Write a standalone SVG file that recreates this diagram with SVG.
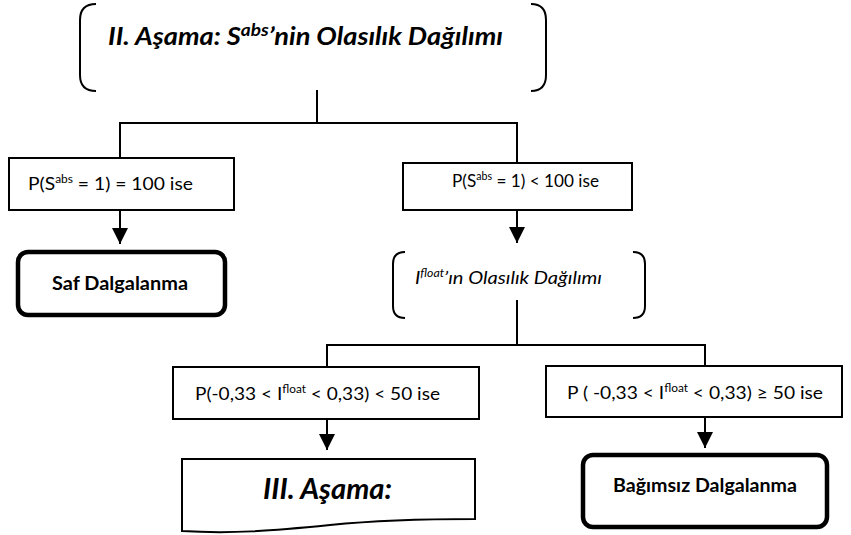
<svg xmlns="http://www.w3.org/2000/svg" width="851" height="535" viewBox="0 0 851 535">
<style>
.t{font-family:Lato,"Open Sans","Liberation Sans",sans-serif;fill:#000}
.box{fill:#fff;stroke:#000;stroke-width:2}
.thick{fill:#fff;stroke:#000;stroke-width:4.5}
.br{fill:none;stroke:#000;stroke-width:2}
.c{fill:none;stroke:#000;stroke-width:2}
.sup{font-size:70%}
</style>
<defs>
<marker id="ah" markerUnits="userSpaceOnUse" markerWidth="16" markerHeight="16" refX="16" refY="8" orient="auto">
<path d="M0,0 L16,8 L0,16 z" fill="#000"/>
</marker>
</defs>
<rect width="851" height="535" fill="#fff"/>
<g id="connectors">
<path class="c" d="M317,90 V123 M120,123 H517 M120,122 V158 M517,122 V163"/>
<path class="c" d="M120,210 V244" marker-end="url(#ah)"/>
<path class="c" d="M517,210 V243" marker-end="url(#ah)"/>
<path class="c" d="M517,300 V345 M327,345 H705 M327,344 V367 M705,344 V366"/>
<path class="c" d="M327,419 V450" marker-end="url(#ah)"/>
<path class="c" d="M705,417 V448" marker-end="url(#ah)"/>
</g>
<g id="stage2">
<path class="br" d="M96,4 Q80,4 80,20 V75 Q80,91 96,91"/>
<path class="br" d="M531,4 Q546,4 546,20 V75 Q546,91 531,91"/>
<text class="t" x="108" y="45" font-size="25" font-weight="bold" font-style="italic" textLength="395" lengthAdjust="spacingAndGlyphs">II. Aşama: S<tspan class="sup" dy="-9">abs</tspan><tspan dy="9">’nin Olasılık Dağılımı</tspan></text>
</g>
<g id="cond1">
<rect class="box" x="9" y="158" width="225" height="52"/>
<text class="t" x="28" y="190" font-size="17" textLength="165" lengthAdjust="spacingAndGlyphs">P(S<tspan font-size="10.5" dy="-7">abs</tspan><tspan dy="7"> = 1) = 100 ise</tspan></text>
</g>
<g id="saf">
<rect class="thick" x="18" y="252" width="207" height="63" rx="10"/>
<text class="t" x="52" y="290" font-size="18" font-weight="bold" textLength="136" lengthAdjust="spacingAndGlyphs">Saf Dalgalanma</text>
</g>
<g id="cond2">
<rect class="box" x="403" y="163" width="229" height="47"/>
<text class="t" x="452" y="187" font-size="17" textLength="147" lengthAdjust="spacingAndGlyphs">P(S<tspan font-size="10.5" dy="-7">abs</tspan><tspan dy="7"> = 1) &lt; 100 ise</tspan></text>
</g>
<g id="ifloat">
<path class="br" d="M405,252 Q393,252 393,264 V306 Q393,318 405,318"/>
<path class="br" d="M633,252 Q645,252 645,264 V306 Q645,318 633,318"/>
<text class="t" x="415" y="284" font-size="18" font-style="italic" textLength="187" lengthAdjust="spacingAndGlyphs">I<tspan font-size="11" dy="-7">float</tspan><tspan dy="7">’ın Olasılık Dağılımı</tspan></text>
</g>
<g id="cond3">
<rect class="box" x="173" y="367" width="306" height="52"/>
<text class="t" x="195" y="400" font-size="17" textLength="245" lengthAdjust="spacingAndGlyphs">P(-0,33 &lt; I<tspan font-size="10.5" dy="-7">float</tspan><tspan dy="7"> &lt; 0,33) &lt; 50 ise</tspan></text>
</g>
<g id="cond4">
<rect class="box" x="546" y="366" width="296" height="51"/>
<text class="t" x="567" y="399" font-size="17" textLength="256" lengthAdjust="spacingAndGlyphs">P ( -0,33 &lt; I<tspan font-size="10.5" dy="-7">float</tspan><tspan dy="7"> &lt; 0,33) ≥ 50 ise</tspan></text>
</g>
<g id="stage3">
<path class="box" d="M182,459 H475 V519 C430,519 380,520 330,525 C270,531 230,534 182,531 Z"/>
<text class="t" x="263" y="499" font-size="28" font-weight="bold" font-style="italic" textLength="129" lengthAdjust="spacingAndGlyphs">III. Aşama:</text>
</g>
<g id="bagimsiz">
<rect class="thick" x="583" y="455" width="244" height="72" rx="10"/>
<text class="t" x="613" y="492" font-size="18" font-weight="bold" textLength="184" lengthAdjust="spacingAndGlyphs">Bağımsız Dalgalanma</text>
</g>
</svg>
